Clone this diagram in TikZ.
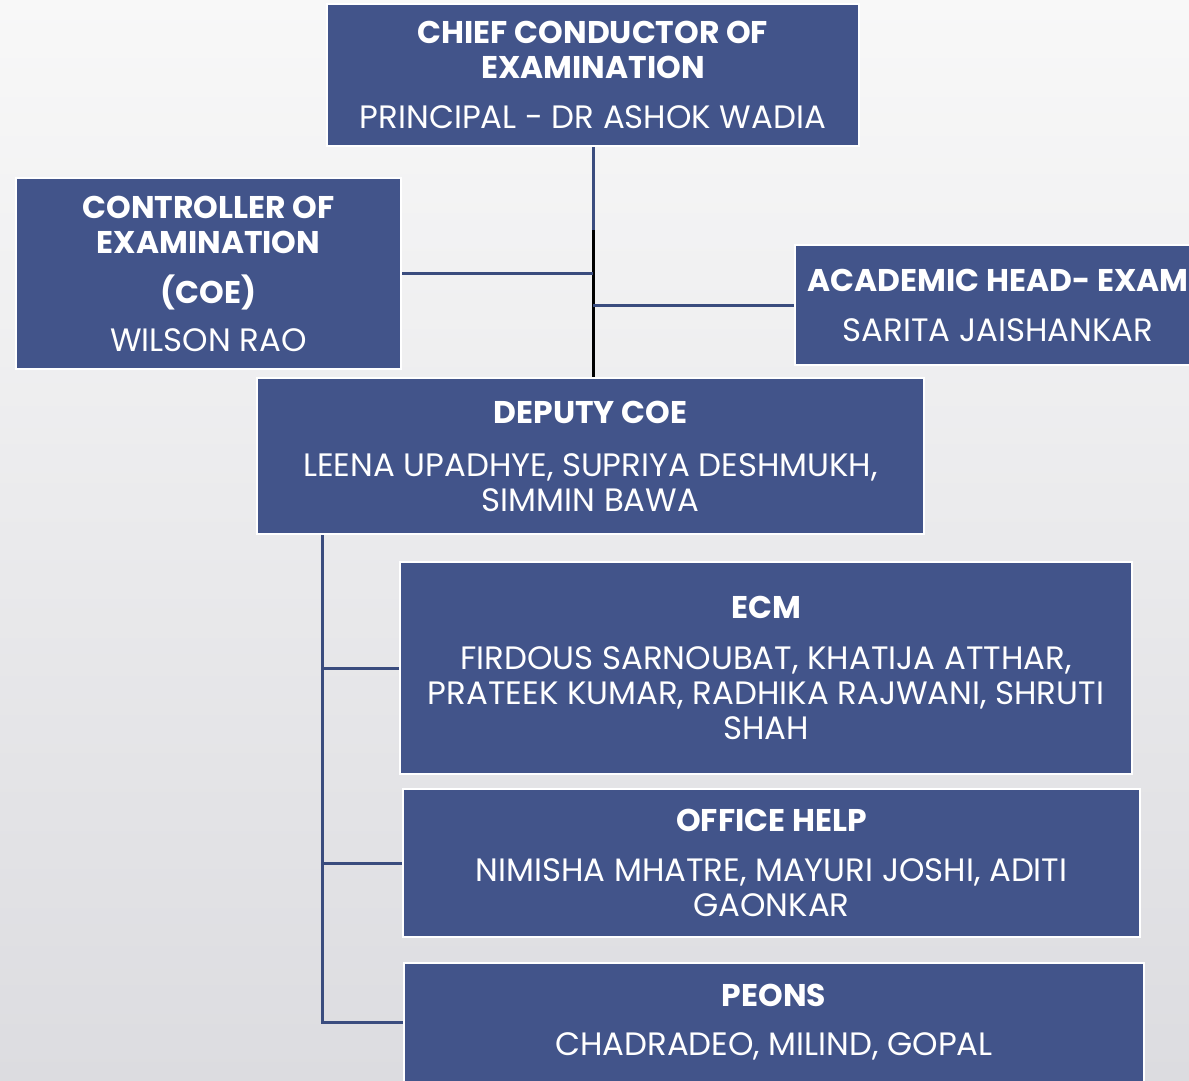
\documentclass[tikz,border=0pt]{standalone}
\usepackage{fontspec}
\setmainfont{Poppins}
\usetikzlibrary{positioning}
\definecolor{boxblue}{HTML}{42548A}
\definecolor{lineblue}{HTML}{3A4C7E}
\definecolor{bgtop}{HTML}{F8F8F8}
\definecolor{bgbot}{HTML}{DCDCE0}
\tikzset{
  orgbox/.style={rectangle, fill=boxblue, draw=white, line width=2.5pt, text=white,
    align=center, inner sep=0pt, font=\fontsize{32.4}{35}\selectfont},
  link/.style={draw=lineblue, line width=3pt},
}
\newcommand{\hd}[1]{{\fontsize{31.4}{35}\selectfont\bfseries #1}}
\begin{document}
\begin{tikzpicture}[x=1pt,y=-1pt]
  \shade[top color=bgtop, bottom color=bgbot] (0,0) rectangle (1189,1081);
  \useasboundingbox (0,0) rectangle (1189,1081);
  \clip (0,0) rectangle (1189,1081);

  % boxes
  \node[orgbox, minimum width=532pt, minimum height=142pt] (chief) at (593,75)
    {\hd{CHIEF CONDUCTOR OF}\\\hd{EXAMINATION}\\[15pt]PRINCIPAL - DR ASHOK WADIA};
  \node[orgbox, minimum width=385pt, minimum height=191pt] (ctrl) at (208.5,273.5)
    {\hd{CONTROLLER OF}\\\hd{EXAMINATION}\\[15pt]\hd{(COE)}\\[13pt]WILSON RAO};
  \node[orgbox, minimum width=406pt, minimum height=120pt] (acad) at (998,305)
    {\hd{ACADEMIC HEAD- EXAM}\\[15pt]SARITA JAISHANKAR};
  \node[orgbox, minimum width=667pt, minimum height=156pt] (deputy) at (590.5,456)
    {\hd{DEPUTY COE}\\[18pt]LEENA UPADHYE, SUPRIYA DESHMUKH,\\SIMMIN BAWA};
  \node[orgbox, minimum width=732pt, minimum height=212pt] (ecm) at (766,668)
    {\hd{ECM}\\[16pt]FIRDOUS SARNOUBAT, KHATIJA ATTHAR,\\PRATEEK KUMAR, RADHIKA RAJWANI, SHRUTI\\SHAH};
  \node[orgbox, minimum width=737pt, minimum height=148pt] (office) at (771.5,863)
    {\hd{OFFICE HELP}\\[15pt]NIMISHA MHATRE, MAYURI JOSHI, ADITI\\GAONKAR};
  \node[orgbox, minimum width=740pt, minimum height=119pt] (peons) at (774,1022.5)
    {\hd{PEONS}\\[14pt]CHADRADEO, MILIND, GOPAL};

  % connectors
  \draw[link] (chief.south) -- (chief.south |- deputy.north);
  \coordinate (mid) at (593,230);
  \draw[black, line width=3pt] (mid) -- (mid |- deputy.north);
  \draw[link] (ctrl.east) -- (ctrl.east -| chief.south);
  \draw[link] (acad.west) -- (acad.west -| chief.south);
  \coordinate (trunk) at (322,535);
  \draw[link] (trunk) |- (peons.west);
  \draw[link] (trunk |- ecm.west) -- (ecm.west);
  \draw[link] (trunk |- office.west) -- (office.west);
\end{tikzpicture}
\end{document}
